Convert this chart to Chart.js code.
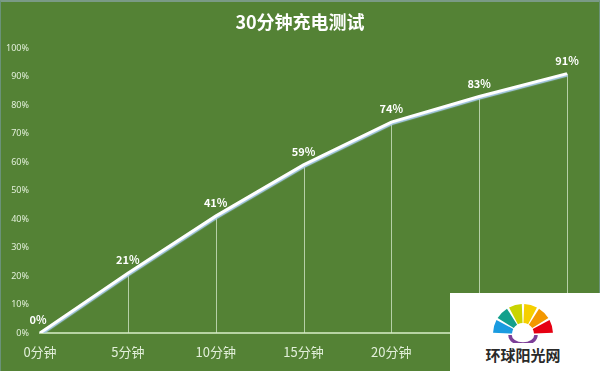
<!DOCTYPE html>
<html>
<head>
<meta charset="utf-8">
<script src="https://cdn.jsdelivr.net/npm/chart.js@4"></script>
<style>
    html, body { margin: 0; padding: 0; background: #548235; }
    #wrap { position: relative; width: 600px; height: 371px; overflow: hidden; }
    #frame { position: absolute; left: 0; top: 0; width: 598px; height: 369px; border: 1px solid #6a9278; border-top: 2px solid #7a9a86; pointer-events: none; }
    #mark { position: absolute; left: 450px; top: 293px; width: 150px; height: 78px; background: #ffffff; }
    #mark svg { position: absolute; left: 41px; top: 10px; }
    #mark span { position: absolute; left: 0; width: 146px; top: 51px; text-align: center; font: bold 15px "Noto Sans CJK SC", sans-serif; color: #2a2a2a; }
</style>
</head>
<body>
<div id="wrap">
    <canvas id="myChart" width="600" height="371"></canvas>
    <div id="frame"></div>
    <div id="mark">
        <svg width="64" height="40" viewBox="-32 -31 64 40" id="logo"></svg>
        <span>环球阳光网</span>
    </div>
</div>
<script>
const chartTitle = "30分钟充电测试";
const minutes = ["0分钟", "5分钟", "10分钟", "15分钟", "20分钟", "25分钟", "30分钟"];
const charge = [0, 21, 41, 59, 74, 83, 91];
const percentTicks = [0, 10, 20, 30, 40, 50, 60, 70, 80, 90, 100];

function init() {
    const canvas = document.getElementById("myChart");

    // little fan logo of the watermark
    const logo = document.getElementById("logo");
    const fanColors = ["#1a9be0", "#13a08c", "#c9d400", "#f6cf00", "#f39800", "#e60012"];
    fanColors.forEach((color, i) => {
        const a0 = Math.PI + i * Math.PI / 6 + 0.04;
        const a1 = Math.PI + (i + 1) * Math.PI / 6 - 0.04;
        const r1 = 30, r0 = 11;
        const p = `M ${r0 * Math.cos(a0)} ${r0 * Math.sin(a0)} L ${r1 * Math.cos(a0)} ${r1 * Math.sin(a0)} A ${r1} ${r1} 0 0 1 ${r1 * Math.cos(a1)} ${r1 * Math.sin(a1)} L ${r0 * Math.cos(a1)} ${r0 * Math.sin(a1)} A ${r0} ${r0} 0 0 0 ${r0 * Math.cos(a0)} ${r0 * Math.sin(a0)} Z`;
        const path = document.createElementNS("http://www.w3.org/2000/svg", "path");
        path.setAttribute("d", p);
        path.setAttribute("fill", color);
        logo.appendChild(path);
    });
    const arc = document.createElementNS("http://www.w3.org/2000/svg", "path");
    arc.setAttribute("d", "M -13 1 A 13 9 0 0 0 13 1");
    arc.setAttribute("fill", "none");
    arc.setAttribute("stroke", "#7d3f98");
    arc.setAttribute("stroke-width", "3.5");
    logo.appendChild(arc);

    // title, drop lines and value labels
    const extras = {
        id: "extras",
        beforeDatasetsDraw(chart) {
            const ctx = chart.ctx;
            const meta = chart.getDatasetMeta(0);
            const bottom = chart.scales.y.getPixelForValue(0);
            ctx.save();
            ctx.strokeStyle = "rgba(215, 232, 205, 0.75)";
            ctx.lineWidth = 1;
            meta.data.forEach((pt, i) => {
                if (i === 0) return;
                ctx.beginPath();
                ctx.moveTo(Math.round(pt.x) + 0.5, pt.y);
                ctx.lineTo(Math.round(pt.x) + 0.5, bottom);
                ctx.stroke();
            });
            ctx.restore();
        },
        afterDatasetsDraw(chart) {
            const ctx = chart.ctx;
            const meta = chart.getDatasetMeta(0);
            ctx.save();
            ctx.fillStyle = "#ffffff";
            ctx.font = "bold 11px 'Noto Sans CJK SC', sans-serif";
            ctx.textAlign = "center";
            ctx.textBaseline = "middle";
            meta.data.forEach((pt, i) => {
                const dx = i === 0 ? -2 : 0;
                ctx.fillText(charge[i] + "%", pt.x + dx, pt.y - 13);
            });
            ctx.font = "bold 18px 'Noto Sans CJK SC', sans-serif";
            ctx.fillText(chartTitle, 300, 22);
            ctx.restore();
        },
        beforeDatasetDraw(chart) {
            const ctx = chart.ctx;
            ctx.save();
            ctx.shadowColor = "#a9cbe8";
            ctx.shadowOffsetY = 1.5;
            ctx.shadowOffsetX = 0.5;
            ctx.shadowBlur = 1;
        },
        afterDatasetDraw(chart) {
            chart.ctx.restore();
        }
    };

    new Chart(canvas, {
        type: "line",
        data: {
            labels: minutes,
            datasets: [{
                data: charge,
                borderColor: "#ffffff",
                borderWidth: 3,
                pointRadius: 0,
                tension: 0,
                fill: false
            }]
        },
        options: {
            responsive: false,
            animation: false,
            layout: { padding: { top: 48, right: 33, left: 0, bottom: 0 } },
            plugins: {
                legend: { display: false },
                tooltip: { enabled: false },
                title: { display: false }
            },
            scales: {
                x: {
                    offset: false,
                    grid: { display: false, drawTicks: false },
                    border: { display: true, color: "#b7d3a3", width: 2 },
                    ticks: {
                        color: "#e2efda",
                        font: { size: 13, family: "'Noto Sans CJK SC', sans-serif" },
                        padding: 11,
                        maxRotation: 0,
                        autoSkip: false
                    },
                    afterFit(scale) { scale.height = 38; }
                },
                y: {
                    min: 0,
                    max: 100,
                    afterBuildTicks(scale) {
                        scale.ticks = percentTicks.map(v => ({ value: v }));
                    },
                    grid: { display: false, drawTicks: false },
                    border: { display: false },
                    ticks: {
                        color: "#e2efda",
                        font: { size: 9, family: "'Noto Sans', sans-serif" },
                        padding: 11,
                        callback: v => v + "%"
                    },
                    afterFit(scale) { scale.width = 40; }
                }
            }
        },
        plugins: [extras]
    });
}

document.addEventListener("DOMContentLoaded", init);
</script>
</body>
</html>
